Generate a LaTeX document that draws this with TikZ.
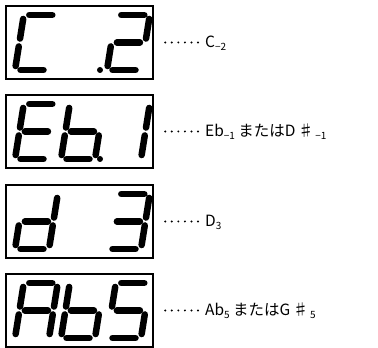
\documentclass[tikz,border=0pt]{standalone}
\usepackage{fontspec}
\setmainfont{Noto Sans CJK JP}
\newdimen\unitsize
\setlength{\unitsize}{1pt}
\newcommand{\lowsub}[1]{\raisebox{-0.3ex}{\fontsize{10}{10}\selectfont #1}}
\tikzset{
  dispbox/.style={draw,line width=2\unitsize,minimum width=147\unitsize,
    minimum height=73\unitsize,inner sep=0pt},
  hseg/.style={line width=6.5\unitsize,line cap=round,
    shorten <=5.5\unitsize,shorten >=5.5\unitsize},
  vseg/.style={line width=6.5\unitsize,line cap=round,
    shorten <=4\unitsize,shorten >=4\unitsize},
  notelabel/.style={anchor=west,inner sep=0pt,text height=11\unitsize,
    text depth=0pt,font=\fontsize{15.5}{16.5}\selectfont},
  leader/.style={line width=2.2\unitsize,line cap=round,
    dash pattern=on 0pt off 6.55\unitsize,
    shorten <=11\unitsize,shorten >=7\unitsize}
}
\newcommand{\segdigit}[3]{%
  \begin{scope}[shift={(#1,#2)},xslant=0.16]
  \foreach \s in {#3}{
    \if a\s \draw[hseg] (0,55)--(34,55);\fi
    \if b\s \draw[vseg] (34,55)--(34,27.5);\fi
    \if c\s \draw[vseg] (34,27.5)--(34,0);\fi
    \if d\s \draw[hseg] (0,0)--(34,0);\fi
    \if e\s \draw[vseg] (0,0)--(0,27.5);\fi
    \if f\s \draw[vseg] (0,27.5)--(0,55);\fi
    \if g\s \draw[hseg] (0,27.5)--(34,27.5);\fi
  }
  \end{scope}}

\begin{document}
\begin{tikzpicture}[x=\unitsize,y=\unitsize]
\useasboundingbox (0,0) rectangle (378,348);
\foreach \row/\yc/\lab in {1/305.5/{C\lowsub{−2}},
    2/216.5/{Eb\lowsub{−1} またはD\,♯\lowsub{\,−1}},
    3/126.5/{D\lowsub{3}},
    4/37.5/{Ab\lowsub{5} またはG\,♯\lowsub{\,5}}}{
  \node[dispbox] (d\row) at (79.75,\yc) {};
  \node[notelabel] (l\row) at (205,\yc) {\lab};
  \draw[leader] (d\row.east) -- (l\row.west);
}
\segdigit{15}{278}{a,d,e,f}
\segdigit{107}{278}{a,b,g,e,d}
\fill (100,278) circle (3);
\segdigit{15}{189}{a,d,e,f,g}
\segdigit{61}{189}{c,d,e,f,g}
\fill (100,189) circle (3);
\segdigit{107}{189}{b,c}
\segdigit{15}{99}{b,c,d,e,g}
\segdigit{107}{99}{a,b,c,d,g}
\segdigit{15}{10}{a,b,c,e,f,g}
\segdigit{61}{10}{c,d,e,f,g}
\segdigit{107}{10}{a,f,g,c,d}
\end{tikzpicture}
\end{document}
